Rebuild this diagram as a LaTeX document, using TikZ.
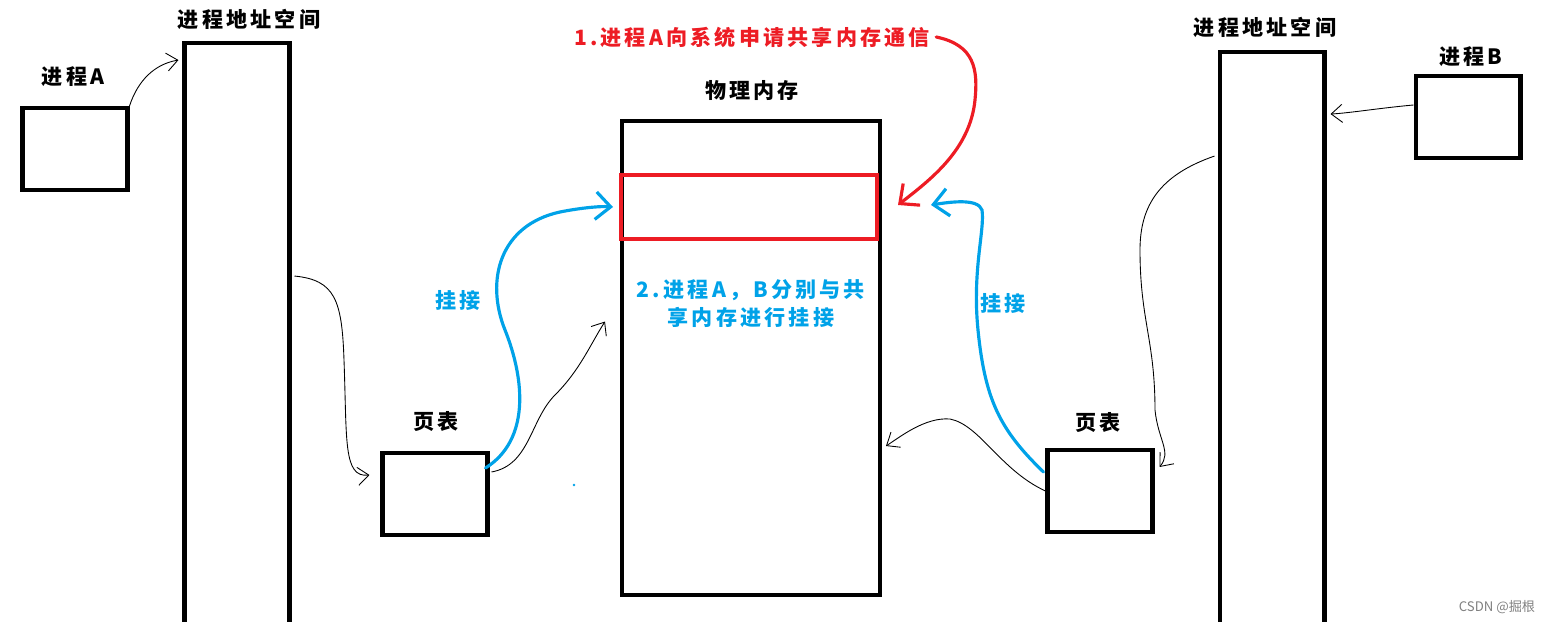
\documentclass[tikz,border=0pt]{standalone}
\usepackage{fontspec}
\setmainfont{Noto Sans CJK SC}
\usepackage{xcolor}
\usepackage{tikz}
\usetikzlibrary{positioning, calc, arrows.meta}
\definecolor{penred}{RGB}{237,28,36}
\definecolor{penblue}{RGB}{0,162,232}

\begin{document}
\begin{tikzpicture}[
    x=0.02cm, y=-0.02cm,
    box/.style={draw, line width=2.3pt, minimum width=2.1cm,
                minimum height=1.64cm, inner sep=0pt},
    tall/.style={draw, line width=2.3pt, minimum width=2.1cm,
                 minimum height=12.4cm, inner sep=0pt},
    lbl/.style={font=\fontsize{12}{14}\selectfont\bfseries\addfontfeatures{LetterSpace=15},
                inner sep=0pt},
    pen/.style={line width=0.5pt, -{Straight Barb[length=2.2mm, width=3.6mm]}},
    bpen/.style={line width=1.8pt, penblue, line cap=round,
                 -{Straight Barb[length=3mm, width=5.5mm]}},
]
\useasboundingbox (0,0) rectangle (1546,622);

% --- Nodes ---
\node[box] (procA) at (75,149) {};
\node[tall] (spaceA) at (237,353) {};
\node[box] (ptA) at (435,494) {};
\node[draw, line width=2.3pt, minimum width=5.16cm, minimum height=9.5cm,
      inner sep=0pt] (mem) at (751,358) {};
\node[draw=penred, line width=2.3pt, minimum width=5.12cm, minimum height=1.28cm,
      inner sep=0pt] (shm) at (749,207) {};
\node[box] (ptB) at (1100,491) {};
\node[tall] (spaceB) at (1272,362) {};
\node[box] (procB) at (1468,117) {};

% --- Labels ---
\node[lbl] (labA) at (73,77) {进程A};
\node[lbl] (labSpaceA) at (249,19) {进程地址空间};
\node[lbl] (labMem) at (752,90) {物理内存};
\node[lbl, text=penred] (req) at (752,37) {1.进程A向系统申请共享内存通信};
\node[lbl] (labSpaceB) at (1265,27) {进程地址空间};
\node[lbl] (labB) at (1471,57) {进程B};
\node[lbl] (labPtA) at (436,422) {页表};
\node[lbl] (labPtB) at (1098,423) {页表};
\node[lbl, text=penblue] (hookA) at (458,301) {挂接};
\node[lbl, text=penblue] (hookB) at (1003,304) {挂接};
\node[lbl, text=penblue, align=center] (step2) at (751,304)
    {2.进程A，B分别与共\\[2pt]享内存进行挂接};
\node[font=\fontsize{7.5}{9}\selectfont, text=gray] (mark) at (1497,607) {CSDN @掘根};
\fill[penblue] (574,485) circle (1.3);

% --- Thin arrows ---
\draw[pen] (procA.north east) .. controls (138,80) and (155,64)
    .. ($(spaceA.north west)+(-4,19)$);
\draw[pen] ($(spaceA.north east)+(3,235)$) .. controls (335,280) and (342,300)
    .. (344,360) .. controls (347,440) and (343,478) .. ($(ptA.north west)+(-11,24)$);
\draw[pen] ($(ptA.north east)+(2,21)$) .. controls (530,465) and (530,420)
    .. (555,395) .. controls (580,370) and (590,345) .. ($(mem.north west)+(-15,203)$);
\draw[pen] (ptB.west) .. controls (1000,470) and (980,425)
    .. (950,419) .. controls (925,417) and (900,437) .. ($(mem.east)+(4,88)$);
\draw[pen] ($(procB.west)+(0,-12)$) .. controls (1380,108) and (1350,113)
    .. ($(spaceB.north east)+(4,64)$);
\draw[pen] ($(spaceB.north west)+(-3,106)$) .. controls (1160,175) and (1140,205)
    .. (1140,250) .. controls (1140,320) and (1155,340) .. (1155,410)
    .. controls (1158,440) and (1172,452) .. ($(ptB.north east)+(5,19)$);

% --- Hooking arrows ---
\draw[bpen] ($(ptA.north east)+(-4,17)$) .. controls (530,440) and (525,380)
    .. (505,330) .. controls (485,280) and (500,225) .. (560,212)
    .. controls (580,208) and (600,206) .. ($(shm.west)+(-6,0)$);
\draw[bpen] ($(ptB.north west)+(-2,24)$) .. controls (1000,430) and (985,400)
    .. (978,330) .. controls (972,270) and (985,230) .. (982,210)
    .. controls (978,198) and (950,202) .. ($(shm.east)+(52,-2)$);
\draw[bpen, penred] ($(req.east)+(6,0)$) .. controls (975,45) and (978,70)
    .. (975,100) .. controls (970,150) and (930,180) .. ($(shm.east)+(19,-2)$);
\end{tikzpicture}
\end{document}
